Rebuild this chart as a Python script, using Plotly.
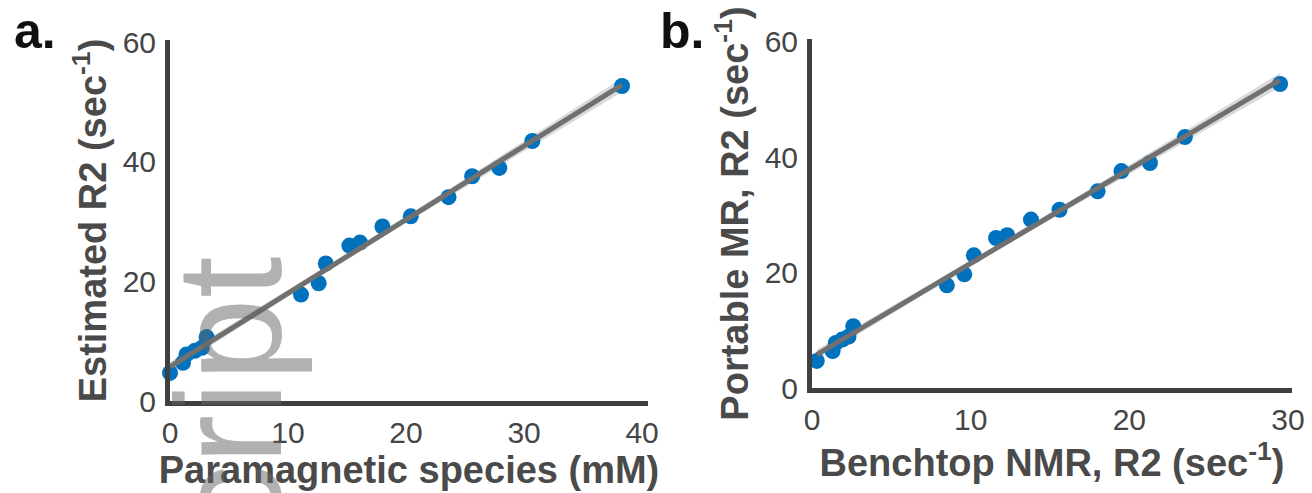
import numpy as np
import plotly.graph_objects as go

# ---- data ----
portable_r2 = [4.7, 6.4, 7.8, 8.4, 8.9, 10.7, 17.8, 19.7, 23.0, 26.0, 26.5, 29.2, 30.9, 34.1, 37.6, 39.0, 43.5, 52.7]
paramagnetic_mM = [0.0, 1.1, 1.4, 2.1, 2.7, 3.1, 11.1, 12.6, 13.2, 15.2, 16.1, 18.0, 20.4, 23.6, 25.6, 27.9, 30.7, 38.3]
benchtop_r2 = [0.3, 1.3, 1.5, 1.9, 2.3, 2.6, 8.5, 9.6, 10.2, 11.6, 12.3, 13.8, 15.6, 18.0, 19.5, 21.3, 23.5, 29.5]

ticks_a_x = [0, 10, 20, 30, 40]
ticks_b_x = [0, 10, 20, 30]
ticks_y = [0, 20, 40, 60]

BLUE = "#0072BD"
LINE_GRAY = "#707070"
AXIS = "#404040"
TXT = "#454545"
T_CRIT = 2.12  # t(0.975, 16 dof)
W, H = 1312, 493


def fit(xs, ys):
    x = np.asarray(xs, float)
    y = np.asarray(ys, float)
    b, a = np.polyfit(x, y, 1)
    xx = np.linspace(x.min(), x.max(), 60)
    yy = a + b * xx
    res = y - (a + b * x)
    n = len(x)
    s = np.sqrt(np.sum(res ** 2) / (n - 2))
    sxx = np.sum((x - x.mean()) ** 2)
    ci = T_CRIT * s * np.sqrt(1.0 / n + (xx - x.mean()) ** 2 / sxx)
    return xx, yy, ci


fig = go.Figure()

for xs, xa, ya in [(paramagnetic_mM, "x", "y"), (benchtop_r2, "x2", "y2")]:
    xx, yy, ci = fit(xs, portable_r2)
    fig.add_trace(go.Scatter(
        x=np.concatenate([xx, xx[::-1]]), y=np.concatenate([yy + ci, (yy - ci)[::-1]]),
        fill="toself", fillcolor="rgba(150,150,150,0.35)", line=dict(width=0),
        hoverinfo="skip", showlegend=False, xaxis=xa, yaxis=ya))
    fig.add_trace(go.Scatter(
        x=xs, y=portable_r2, mode="markers", cliponaxis=False,
        marker=dict(color=BLUE, size=16, line=dict(width=0)),
        showlegend=False, xaxis=xa, yaxis=ya))
    fig.add_trace(go.Scatter(
        x=xx, y=yy, mode="lines", line=dict(color=LINE_GRAY, width=5),
        cliponaxis=False, showlegend=False, xaxis=xa, yaxis=ya))

FAM = "Liberation Sans, Arial, sans-serif"
tickfont = dict(family=FAM, size=30, color=TXT)
titlefont = dict(family=FAM, size=38, color="#4a4a4a", weight="bold")

common = dict(showline=True, linecolor=AXIS, linewidth=5, showgrid=False, zeroline=False,
              ticks="", tickfont=tickfont, automargin=False)

fig.update_layout(
    width=W, height=H,
    margin=dict(l=0, r=0, t=0, b=0, autoexpand=False),
    paper_bgcolor="white", plot_bgcolor="white",
    xaxis=dict(common, domain=[170 / W, 648 / W], range=[0, 40.5], ticklabelstandoff=1,
               tickvals=ticks_a_x, anchor="y",
               title=dict(text="Paramagnetic species (mM)", font=titlefont, standoff=4)),
    yaxis=dict(common, domain=[(H - 401) / H, (H - 40) / H], range=[0, 60.4], ticklabelstandoff=3,
               tickvals=ticks_y, anchor="x",
               title=dict(text="Estimated R2 (sec<sup>-1</sup>)", font=titlefont, standoff=6)),
    xaxis2=dict(common, domain=[812 / W, 1292 / W], range=[0, 30.25], ticklabelstandoff=1,
                tickvals=ticks_b_x, anchor="y2",
                title=dict(text="Benchtop NMR, R2 (sec<sup>-1</sup>)", font=titlefont, standoff=4)),
    yaxis2=dict(common, domain=[(H - 388) / H, (H - 39) / H], range=[0, 60.5], ticklabelstandoff=3,
                tickvals=ticks_y, anchor="x2",
                title=dict(text="Portable MR, R2 (sec<sup>-1</sup>)", font=titlefont, standoff=6)),
    annotations=[
        dict(text="a.", x=12 / W, y=(H - 31) / H, xref="paper", yref="paper",
             xanchor="left", yanchor="middle", showarrow=False,
             font=dict(family=FAM, size=50, color="#111111", weight="bold")),
        dict(text="b.", x=658 / W, y=(H - 31) / H, xref="paper", yref="paper",
             xanchor="left", yanchor="middle", showarrow=False,
             font=dict(family=FAM, size=50, color="#111111", weight="bold")),
        dict(text="Manuscript", textangle=-90, x=229 / W, y=(H - 623) / H,
             xref="paper", yref="paper", xanchor="center", yanchor="middle", showarrow=False,
             font=dict(family=FAM, size=150, color="rgba(100,100,100,0.5)")),
    ],
)

fig.write_html("out.html", config={"displayModeBar": False},
               post_script="document.body.style.margin='0';")
